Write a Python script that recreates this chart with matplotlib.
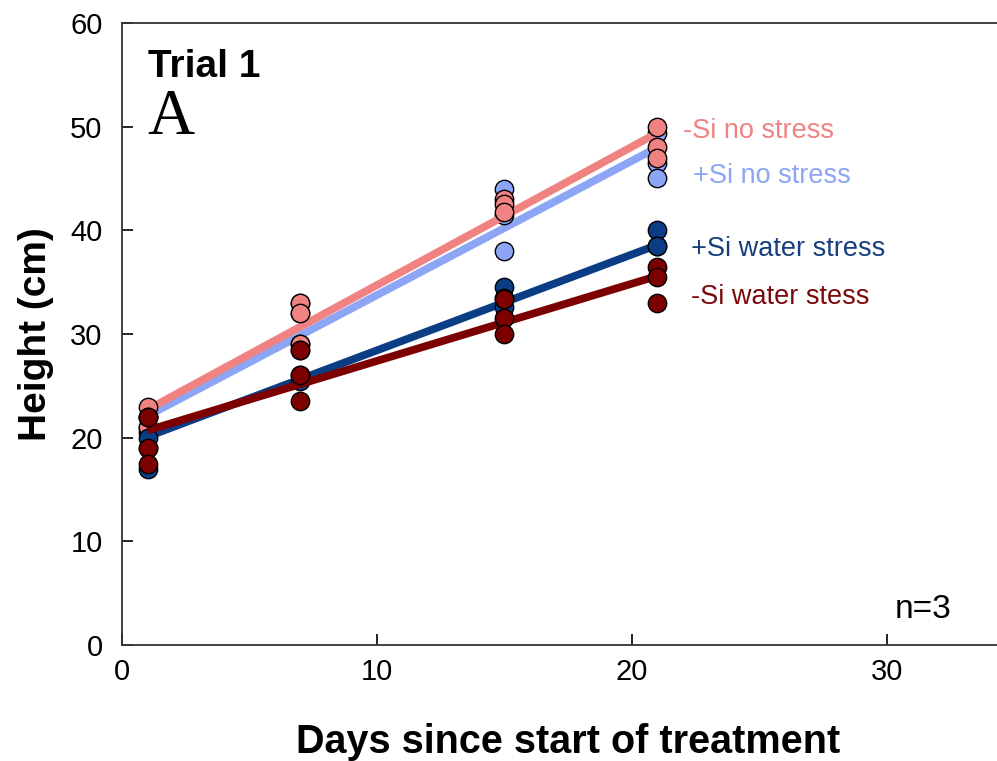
import matplotlib
matplotlib.use("Agg")
import matplotlib.pyplot as plt
import numpy as np

plt.rcParams['font.family'] = ['Liberation Sans', 'DejaVu Sans']

days = [1, 7, 15, 21]
series_names = ["+Si no stress", "-Si no stress", "+Si water stress", "-Si water stess"]

# replicate heights (cm), 3 per day
plus_si_no_stress = [[22.0, 21.0, 20.5], [33.0, 32.0, 29.0], [44.0, 41.5, 38.0], [49.4, 46.5, 45.0]]
minus_si_no_stress = [[23.0, 21.0, 22.0], [33.0, 32.0, 29.0], [43.0, 42.5, 41.8], [50.0, 48.0, 47.0]]
plus_si_water = [[17.0, 19.0, 20.0], [26.0, 25.5, 28.5], [34.5, 32.6, 33.5], [40.0, 38.5, 38.5]]
minus_si_water = [[22.0, 19.0, 17.5], [28.5, 26.0, 23.5], [33.4, 31.5, 30.0], [36.5, 35.5, 33.0]]

# fitted trend values at first and last day
trend_day1 = [22.1, 22.7, 20.1, 20.7]
trend_day21 = [48.0, 49.4, 38.6, 35.6]

line_colors = ["#8CA5F5", "#F08282", "#0B3D85", "#7D0000"]
text_colors = ["#8CA5F5", "#F08282", "#173F7F", "#7A0A0A"]

fig = plt.figure(figsize=(9.97, 7.61), dpi=100)
ax = fig.add_axes([0.1224, 0.1524, 0.895, 0.8174])

all_series = [plus_si_no_stress, minus_si_no_stress, plus_si_water, minus_si_water]
for i, data in enumerate(all_series):
    ax.plot([days[0], days[-1]], [trend_day1[i], trend_day21[i]], color=line_colors[i],
            lw=5.6, solid_capstyle='butt', zorder=2 + 2 * i)
    xs = np.repeat(days, 3)
    ys = np.array(data).ravel()
    ax.scatter(xs, ys, s=175, color=line_colors[i], edgecolor='black', linewidth=1.0,
               zorder=3 + 2 * i)

ax.set_xlim(0, 35)
ax.set_ylim(0, 60)
ax.set_xticks([0, 10, 20, 30])
ax.set_yticks([0, 10, 20, 30, 40, 50, 60])
ax.tick_params(direction='in', length=8, width=1.2, labelsize=21)
ax.tick_params(axis='y', pad=14)
ax.tick_params(axis='x', pad=9)
for sp in ax.spines.values():
    sp.set_linewidth(1.3)
    sp.set_color('#333333')

ax.set_xlabel("Days since start of treatment", fontsize=28.5, fontweight='bold', labelpad=27)
ax.set_ylabel("Height (cm)", fontsize=28, fontweight='bold', labelpad=12)

ax.text(1.0, 55.8, "Trial 1", fontsize=28, fontweight='bold', va='center', ha='left')
ax.text(1.0, 50.8, "A", fontsize=47, family='Liberation Serif', va='center', ha='left')
ax.text(30.3, 3.4, "n=3", fontsize=24, va='center', ha='left')

label_pos = [(22.4, 45.2), (22.0, 49.6), (22.3, 38.2), (22.3, 33.6)]
for i, name in enumerate(series_names):
    ax.text(label_pos[i][0], label_pos[i][1], name, color=text_colors[i], fontsize=19.5,
            va='center', ha='left')

fig.savefig("out.png", dpi=100)
